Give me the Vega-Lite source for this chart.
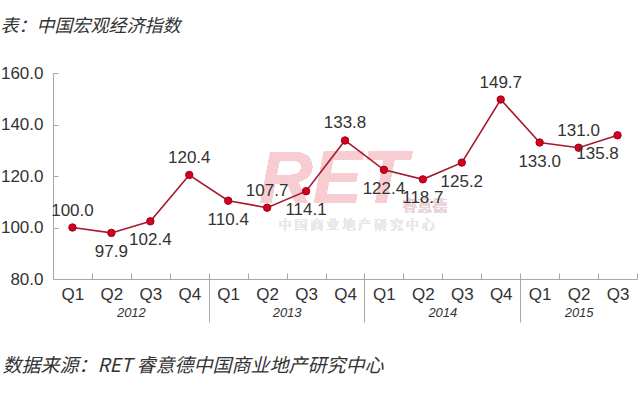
{
  "$schema": "https://vega.github.io/schema/vega-lite/v6.json",
  "width": 640,
  "height": 397,
  "autosize": {"type": "fit", "contains": "padding"},
  "padding": {"left": 0, "top": 18, "right": 2, "bottom": 22},
  "background": "white",
  "title": {
    "text": "表：中国宏观经济指数",
    "anchor": "start",
    "frame": "bounds",
    "font": "Noto Sans CJK SC",
    "fontSize": 18,
    "fontStyle": "italic",
    "fontWeight": "normal",
    "color": "#333333",
    "offset": 28
  },
  "config": {"view": {"stroke": null}, "font": "Liberation Sans"},
  "data": {
    "values": [
      {"idx": 1, "year": "2012", "quarter": "Q1", "value": 100.0},
      {"idx": 2, "year": "2012", "quarter": "Q2", "value": 97.9},
      {"idx": 3, "year": "2012", "quarter": "Q3", "value": 102.4},
      {"idx": 4, "year": "2012", "quarter": "Q4", "value": 120.4},
      {"idx": 5, "year": "2013", "quarter": "Q1", "value": 110.4},
      {"idx": 6, "year": "2013", "quarter": "Q2", "value": 107.7},
      {"idx": 7, "year": "2013", "quarter": "Q3", "value": 114.1},
      {"idx": 8, "year": "2013", "quarter": "Q4", "value": 133.8},
      {"idx": 9, "year": "2014", "quarter": "Q1", "value": 122.4},
      {"idx": 10, "year": "2014", "quarter": "Q2", "value": 118.7},
      {"idx": 11, "year": "2014", "quarter": "Q3", "value": 125.2},
      {"idx": 12, "year": "2014", "quarter": "Q4", "value": 149.7},
      {"idx": 13, "year": "2015", "quarter": "Q1", "value": 133.0},
      {"idx": 14, "year": "2015", "quarter": "Q2", "value": 131.0},
      {"idx": 15, "year": "2015", "quarter": "Q3", "value": 135.8}
    ]
  },
  "resolve": {"axis": {"x": "independent"}},
  "layer": [
    {
      "mark": {"type": "text", "fontSize": 74, "fontWeight": "bold", "fontStyle": "italic", "color": "#f7cdd1", "font": "Liberation Sans"},
      "encoding": {
        "x": {"datum": 7.7, "type": "quantitative", "axis": null},
        "y": {"datum": 118, "type": "quantitative"},
        "text": {"value": "RET"}
      }
    },
    {
      "mark": {"type": "text", "fontSize": 15, "color": "#ecd3d6", "font": "Noto Sans CJK SC"},
      "encoding": {
        "x": {"datum": 10.05, "type": "quantitative", "axis": null},
        "y": {"datum": 108.5, "type": "quantitative"},
        "text": {"value": "睿意德"}
      }
    },
    {
      "mark": {"type": "text", "fontSize": 13, "color": "#e8e8e8", "font": "Noto Sans CJK SC"},
      "encoding": {
        "x": {"datum": 8.3, "type": "quantitative", "axis": null},
        "y": {"datum": 100.8, "type": "quantitative"},
        "text": {"value": "中 国 商 业 地 产 研 究 中 心"}
      }
    },
    {
      "mark": {"type": "line", "color": "#a31b2e", "strokeWidth": 1.6},
      "encoding": {
        "x": {
          "field": "idx",
          "type": "quantitative",
          "scale": {"domain": [0.5, 15.5], "nice": false, "zero": false},
          "axis": {
            "orient": "bottom",
            "offset": 0,
            "values": [1, 2, 3, 4, 5, 6, 7, 8, 9, 10, 11, 12, 13, 14, 15],
            "labelExpr": "'Q' + ((datum.value - 1) % 4 + 1)",
            "ticks": false,
            "domain": true,
            "domainColor": "#a8a8a8",
            "domainWidth": 1,
            "grid": false,
            "title": null,
            "labelFont": "Liberation Sans",
            "labelFontSize": 17,
            "labelColor": "#333333",
            "labelPadding": 7,
            "labelFlush": false,
            "labelOverlap": false
          }
        },
        "y": {
          "field": "value",
          "type": "quantitative",
          "scale": {"domain": [80, 160], "nice": false, "zero": false},
          "axis": {
            "values": [80, 100, 120, 140, 160],
            "format": ".1f",
            "grid": false,
            "title": null,
            "domainColor": "#a8a8a8",
            "tickColor": "#a8a8a8",
            "tickSize": -5,
            "labelFont": "Liberation Sans",
            "labelFontSize": 17,
            "labelColor": "#333333",
            "labelPadding": 15,
            "labelFlush": false
          }
        }
      }
    },
    {
      "mark": {"type": "point", "filled": true, "size": 55, "color": "#d3001e", "stroke": "#a0001a", "strokeWidth": 1, "opacity": 1},
      "encoding": {
        "x": {
          "field": "idx",
          "type": "quantitative",
          "axis": {
            "orient": "bottom",
            "offset": 0,
            "values": [1.5, 2.5, 3.5, 4.5, 5.5, 6.5, 7.5, 8.5, 9.5, 10.5, 11.5, 12.5, 13.5, 14.5, 15.5],
            "labels": false,
            "domain": false,
            "grid": false,
            "title": null,
            "ticks": true,
            "tickSize": -6,
            "tickColor": "#a8a8a8"
          }
        },
        "y": {"field": "value", "type": "quantitative"}
      }
    },
    {
      "transform": [{"filter": {"field": "idx", "oneOf": [1, 4, 6, 8, 12, 14]}}],
      "mark": {"type": "text", "dy": -17, "fontSize": 17, "color": "#333333", "font": "Liberation Sans"},
      "encoding": {
        "x": {
          "field": "idx",
          "type": "quantitative",
          "axis": {
            "orient": "bottom",
            "offset": 0,
            "values": [2.5, 6.5, 10.5, 14],
            "labelExpr": "'' + (2012 + floor((datum.value - 0.5) / 4))",
            "labels": true,
            "ticks": false,
            "domain": false,
            "grid": false,
            "labelFont": "Liberation Sans",
            "labelFontStyle": "italic",
            "labelFontSize": 13,
            "labelColor": "#333333",
            "labelPadding": 27,
            "labelFlush": false,
            "title": "数据来源：RET 睿意德中国商业地产研究中心",
            "titleFont": "Noto Sans CJK SC",
            "titleFontSize": 19,
            "titleFontStyle": "italic",
            "titleFontWeight": "normal",
            "titleColor": "#333333",
            "titleAnchor": null,
            "titleAlign": "left",
            "titleBaseline": "middle",
            "titleAngle": 0,
            "titleX": -51,
            "titleY": 86
          }
        },
        "y": {"field": "value", "type": "quantitative"},
        "text": {"field": "value", "type": "quantitative", "format": ".1f"}
      }
    },
    {
      "transform": [{"filter": {"field": "idx", "oneOf": [2, 3, 5, 7, 9, 10, 11, 13]}}],
      "mark": {"type": "text", "dy": 19, "fontSize": 17, "color": "#333333", "font": "Liberation Sans"},
      "encoding": {
        "x": {
          "field": "idx",
          "type": "quantitative",
          "axis": {
            "orient": "bottom",
            "offset": 0,
            "values": [4.5, 8.5, 12.5],
            "labels": false,
            "domain": false,
            "grid": false,
            "title": null,
            "ticks": true,
            "tickSize": 43,
            "tickColor": "#a8a8a8"
          }
        },
        "y": {"field": "value", "type": "quantitative"},
        "text": {"field": "value", "type": "quantitative", "format": ".1f"}
      }
    },
    {
      "transform": [{"filter": {"field": "idx", "oneOf": [15]}}],
      "mark": {"type": "text", "dy": 19, "dx": -20, "fontSize": 17, "color": "#333333", "font": "Liberation Sans"},
      "encoding": {
        "x": {"field": "idx", "type": "quantitative", "axis": null},
        "y": {"field": "value", "type": "quantitative"},
        "text": {"field": "value", "type": "quantitative", "format": ".1f"}
      }
    }
  ]
}
